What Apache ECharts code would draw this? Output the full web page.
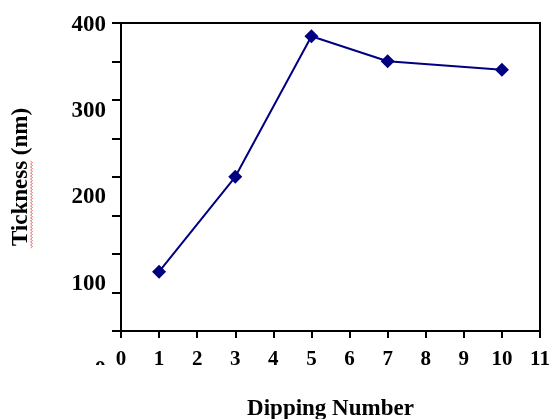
<!DOCTYPE html>
<html>
<head>
<meta charset="utf-8">
<script src="https://cdn.jsdelivr.net/npm/echarts@6/dist/echarts.min.js"></script>
<style>
  html, body { margin: 0; padding: 0; background: #fff; }
  #chart { width: 558px; height: 419px; }
</style>
</head>
<body>
<div id="chart"></div>
<script>
// Film thickness versus number of dip-coating cycles
const dippingNumber = [1, 3, 5, 7, 10];
const thickness = [114, 224, 387, 358, 348];
const xTicks = [0, 1, 2, 3, 4, 5, 6, 7, 8, 9, 10, 11];
const yTickLabels = [0, 100, 200, 300, 400];

const FONT = '"Liberation Serif", "Times New Roman", serif';
const chart = echarts.init(document.getElementById('chart'), null, { renderer: 'canvas' });

// red spell-check squiggle under the y-axis title word
const squiggle = [];
for (let y = 248, i = 0; y >= 161; y -= 1.5, i++) {
  squiggle.push([i % 2 === 0 ? 30.5 : 32.5, y]);
}

chart.setOption({
  animation: false,
  backgroundColor: '#fff',
  grid: [
    // frame with minor ticks
    { left: 121, right: 18, top: 23, bottom: 88, show: true, borderColor: '#000', borderWidth: 2,
      backgroundColor: 'transparent', containLabel: false, outerBoundsMode: 'none' },
    // value scale carrying the tick labels and the data
    { left: 121, right: 18, top: 25, bottom: 49, show: false, containLabel: false, outerBoundsMode: 'none' }
  ],
  xAxis: [
    {
      type: 'value', gridIndex: 0, min: xTicks[0], max: xTicks[xTicks.length - 1], interval: 1,
      name: 'Dipping Number', nameLocation: 'middle', nameGap: 67,
      nameTextStyle: { fontFamily: FONT, fontWeight: 'bold', fontSize: 23, color: '#000' },
      axisLine: { show: true, onZero: false, lineStyle: { color: '#000', width: 2 } },
      axisTick: { show: true, inside: false, length: 7, lineStyle: { color: '#000', width: 2 } },
      axisLabel: { show: true, margin: 18, fontFamily: FONT, fontWeight: 'bold', fontSize: 21, color: '#000',
        formatter: v => String(v), showMaxLabel: true, showMinLabel: true },
      splitLine: { show: false }
    },
    {
      type: 'value', gridIndex: 1, min: xTicks[0], max: xTicks[xTicks.length - 1],
      show: false
    }
  ],
  yAxis: [
    {
      type: 'value', gridIndex: 0, min: 0, max: 400, interval: 50,
      name: 'Tickness (nm)', nameLocation: 'middle', nameGap: 88, nameRotate: 90,
      nameTextStyle: { fontFamily: FONT, fontWeight: 'bold', fontSize: 23, color: '#000' },
      axisLine: { show: true, onZero: false, lineStyle: { color: '#000', width: 2 } },
      axisTick: { show: true, inside: false, length: 9, lineStyle: { color: '#000', width: 2 } },
      axisLabel: { show: false },
      splitLine: { show: false }
    },
    {
      type: 'value', gridIndex: 1, min: yTickLabels[0], max: yTickLabels[yTickLabels.length - 1], interval: 100,
      axisLine: { show: false }, axisTick: { show: false }, splitLine: { show: false },
      axisLabel: { show: true, margin: 15, fontFamily: FONT, fontWeight: 'bold', fontSize: 23, color: '#000' }
    }
  ],
  graphic: [
    { type: 'polyline', z: 100, shape: { points: squiggle }, style: { stroke: '#f07070', lineWidth: 1, fill: null } },
    { type: 'rect', z: 100, shape: { x: 84, y: 365, width: 30, height: 24 }, style: { fill: '#fff' } }
  ],
  series: [
    {
      type: 'line', xAxisIndex: 1, yAxisIndex: 1,
      data: dippingNumber.map((d, i) => [d, thickness[i]]),
      symbol: 'diamond', symbolSize: 14,
      lineStyle: { color: '#000080', width: 2 },
      itemStyle: { color: '#000080' }
    }
  ]
});
</script>
</body>
</html>
